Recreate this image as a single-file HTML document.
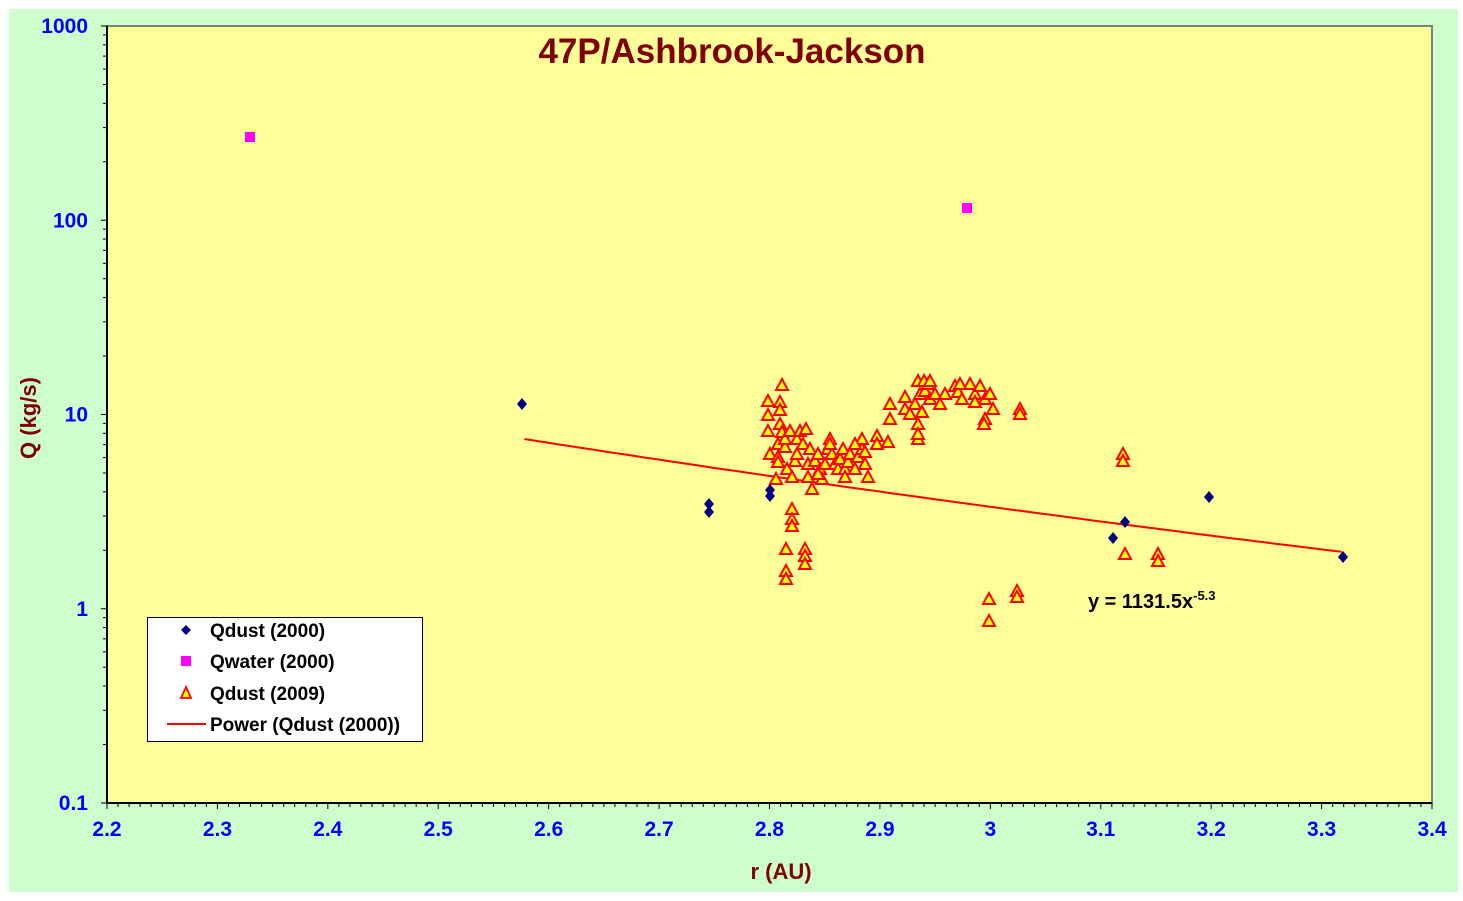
<!DOCTYPE html>
<html><head><meta charset="utf-8"><style>
html,body{margin:0;padding:0;background:#fff;}
svg{display:block;font-family:"Liberation Sans",Arial,sans-serif;}
</style></head><body>
<svg id="s" width="1463" height="901" xmlns="http://www.w3.org/2000/svg">
<rect x="9" y="9" width="1449" height="883" fill="#ccffcc"/>
<rect x="107" y="26" width="1325" height="777" fill="#ffff99" stroke="#808080" stroke-width="2"/>
<line x1="107" y1="26" x2="107" y2="803" stroke="#000" stroke-width="2"/>
<line x1="107" y1="803" x2="1432" y2="803" stroke="#000" stroke-width="2"/>
<g id="ticks" stroke="#000" stroke-width="1"></g>
<g id="labels" font-size="21" font-weight="bold" fill="#0000ff"></g>
<text x="732" y="63" font-size="35" font-weight="bold" fill="#800000" text-anchor="middle">47P/Ashbrook-Jackson</text>
<text x="781" y="879" font-size="22" font-weight="bold" fill="#800000" text-anchor="middle">r (AU)</text>
<text transform="translate(36,418) rotate(-90)" font-size="22" font-weight="bold" fill="#800000" text-anchor="middle">Q (kg/s)</text>
<path id="fit" fill="none" stroke="#ff0000" stroke-width="2"/>
<g id="tri"></g>
<g id="dia"></g>
<rect x="245" y="132" width="10" height="10" fill="#ff00ff"/>
<rect x="962" y="203" width="10" height="10" fill="#ff00ff"/>
<text x="1088" y="608" font-size="20" font-weight="bold" fill="#000">y = 1131.5x<tspan font-size="13" dy="-8">-5.3</tspan></text>
<rect x="147.5" y="617.5" width="275" height="124" fill="#fff" stroke="#000" stroke-width="1"/>
<path d="M186 625 L191 630 L186 635 L181 630 Z" fill="#000080"/>
<rect x="181" y="656" width="10" height="10" fill="#ff00ff"/>
<path d="M186 687 L191 698 L181 698 Z" fill="#ffff00" stroke="#ff0000" stroke-width="1.8"/>
<line x1="167" y1="724" x2="206" y2="724" stroke="#ff0000" stroke-width="2"/>
<g font-size="19" font-weight="bold" fill="#000">
<text x="210" y="637">Qdust (2000)</text>
<text x="210" y="668">Qwater (2000)</text>
<text x="210" y="700">Qdust (2009)</text>
<text x="210" y="731">Power (Qdust (2000))</text>
</g>
</svg>
<script>
var NS="http://www.w3.org/2000/svg";
function X(v){return 107+(v-2.2)*1104.17;}
function Y(q){return 26+(3-Math.log10(q))*194.25;}
function el(t,a,p){var e=document.createElementNS(NS,t);for(var k in a)e.setAttribute(k,a[k]);if(p)document.getElementById(p).appendChild(e);return e;}
for(var i=0;i<=120;i++){var x=107+i*1325/120;el("line",{x1:x,y1:803,x2:x,y2:i%10==0?809:807},"ticks");}
var xl=["2.2","2.3","2.4","2.5","2.6","2.7","2.8","2.9","3","3.1","3.2","3.3","3.4"];
for(var i=0;i<xl.length;i++){var t=el("text",{x:107+i*110.42,y:836,"text-anchor":"middle"},"labels");t.textContent=xl[i];}
for(var d=-1;d<3;d++){for(var m=1;m<10;m++){var y=Y(m*Math.pow(10,d));el("line",{x1:m==1?101:103,y1:y,x2:107,y2:y},"ticks");}}
el("line",{x1:101,y1:26,x2:107,y2:26},"ticks");
var yl=["1000","100","10","1","0.1"];
for(var i=0;i<5;i++){var t=el("text",{x:88,y:26+i*194.25+7,"text-anchor":"end"},"labels");t.textContent=yl[i];}
var d="";for(var v=2.578;v<=3.321;v+=0.01){var q=1131.5*Math.pow(v,-5.3);d+=(d?"L":"M")+X(v).toFixed(1)+" "+Y(q).toFixed(1);}
document.getElementById("fit").setAttribute("d",d);
var T=[[768,402],[768,416],[768,432],[770,455],[782,386],[780,403],[780,411],[780,425],[782,433],[778,445],[778,458],[778,463],[776,480],[785,448],[785,440],[790,432],[787,470],[792,510],[792,520],[792,527],[786,550],[786,572],[786,580],[805,550],[805,557],[805,565],[792,478],[795,462],[797,455],[797,440],[800,432],[803,445],[806,430],[810,450],[808,465],[808,478],[812,490],[815,462],[818,455],[820,470],[822,480],[825,465],[828,450],[830,440],[832,455],[835,465],[838,470],[840,460],[843,450],[845,470],[848,463],[850,455],[855,470],[858,458],[862,450],[865,465],[868,478],[862,440],[855,445],[830,445],[845,478],[818,475],[865,453],[877,437],[877,445],[888,443],[890,405],[890,420],[905,398],[905,410],[910,415],[915,405],[918,382],[920,395],[918,425],[918,440],[918,435],[922,413],[925,392],[928,385],[930,400],[935,395],[940,405],[945,395],[955,387],[958,393],[962,400],[970,385],[975,395],[980,387],[985,400],[990,395],[993,410],[985,420],[984,425],[924,382],[930,382],[960,385],[975,403],[1020,410],[1020,415],[1123,455],[1123,462],[1125,555],[1158,555],[1158,562],[989,600],[989,622],[1017,592],[1017,598]];
T.forEach(function(p){el("path",{d:"M"+p[0]+" "+(p[1]-7)+"L"+(p[0]+6)+" "+(p[1]+4)+"L"+(p[0]-6)+" "+(p[1]+4)+"Z",fill:"#ffff00",stroke:"#ff0000","stroke-width":2},"tri");});
var D=[[522,404],[709,504],[709,512],[770,490],[770,496],[1113,538],[1125,522],[1209,497],[1343,557]];
D.forEach(function(p){el("path",{d:"M"+p[0]+" "+(p[1]-6)+"L"+(p[0]+5)+" "+p[1]+"L"+p[0]+" "+(p[1]+6)+"L"+(p[0]-5)+" "+p[1]+"Z",fill:"#000080"},"dia");});
</script>
</body></html>
